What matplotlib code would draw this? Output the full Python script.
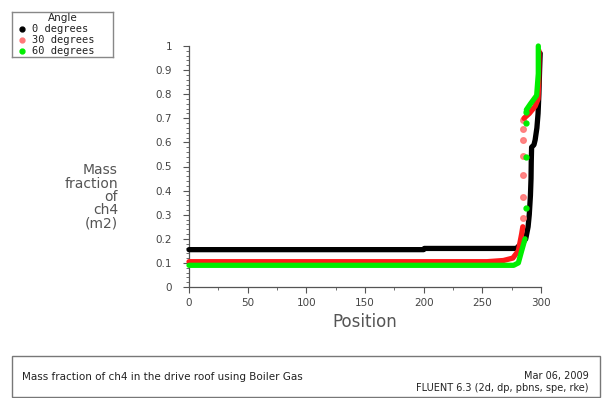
import matplotlib
matplotlib.use("Agg")
import matplotlib.pyplot as plt
from matplotlib.ticker import MultipleLocator
from matplotlib.patches import Rectangle

# ---- data ----
x_0deg = [0, 200, 200.5, 279, 281, 284, 287, 289, 290, 291, 291.5, 291.7, 292, 294, 295, 296.5, 297.5, 298.2, 298.8, 299.3]
y_0deg = [0.155, 0.155, 0.16, 0.16, 0.17, 0.18, 0.20, 0.25, 0.30, 0.38, 0.45, 0.52, 0.58, 0.59, 0.61, 0.66, 0.72, 0.80, 0.90, 0.97]

x_30deg = [0, 254, 268, 276, 280.7, 283.5, 284.5]
y_30deg = [0.105, 0.105, 0.11, 0.12, 0.15, 0.22, 0.25]
x_30_jump = [285, 285, 285, 285, 285, 285, 285]
y_30_jump = [0.285, 0.373, 0.465, 0.542, 0.609, 0.656, 0.692]
x_30_top = [285.5, 290, 295, 297.5, 298, 298.3]
y_30_top = [0.70, 0.72, 0.75, 0.78, 0.85, 0.98]

x_60deg = [0, 276.7, 280.7, 283.5, 286.4]
y_60deg = [0.09, 0.09, 0.10, 0.15, 0.20]
x_60_jump = [287, 287, 287, 287]
y_60_jump = [0.328, 0.54, 0.68, 0.725]
x_60_top = [287.5, 291, 296.3, 297.7, 297.7]
y_60_top = [0.735, 0.76, 0.795, 0.885, 1.0]

series_labels = ["0 degrees", "30 degrees", "60 degrees"]
legend_title = "Angle"
x_ticks = [0, 50, 100, 150, 200, 250, 300]
y_ticks = [0, 0.1, 0.2, 0.3, 0.4, 0.5, 0.6, 0.7, 0.8, 0.9, 1.0]

c_black = "#000000"
c_red = "#ff1a1a"
c_red_light = "#ff7878"
c_green = "#00ee00"
gray = "#555555"

W, H = 603, 398
fig = plt.figure(figsize=(W / 100, H / 100), dpi=100)
fig.patch.set_facecolor("white")

def fx(px):
    return px / W

def fy(py):
    return 1 - py / H

left, right, top, bottom = 189, 541, 46, 287
ax = fig.add_axes([fx(left), fy(bottom), fx(right - left), fy(top) - fy(bottom)])
ax.set_xlim(0, 300)
ax.set_ylim(0, 1)
ax.margins(0)

lw = 3.8
kw = dict(lw=lw, solid_capstyle="round", solid_joinstyle="round", clip_on=False)
ax.plot(x_0deg, y_0deg, color=c_black, zorder=3, **kw)
ax.plot(x_30deg, y_30deg, color=c_red, zorder=4, **kw)
ax.plot(x_30_jump, y_30_jump, ls="none", marker="o", ms=4, color=c_red_light, alpha=0.9, zorder=4, clip_on=False)
ax.plot(x_30_top, y_30_top, color=c_red, zorder=4, **kw)
ax.plot(x_60deg, y_60deg, color=c_green, zorder=5, **kw)
ax.plot(x_60_jump, y_60_jump, ls="none", marker="o", ms=3.5, color=c_green, zorder=5, clip_on=False)
ax.plot(x_60_top, y_60_top, color=c_green, zorder=5, **kw)

for s in ["top", "right"]:
    ax.spines[s].set_visible(False)
for s in ["left", "bottom"]:
    ax.spines[s].set_color(gray)
    ax.spines[s].set_linewidth(0.9)

ax.set_xticks(x_ticks)
ax.set_xticklabels([str(v) for v in x_ticks])
ax.set_yticks(y_ticks)
ax.set_yticklabels(["0" if v == 0 else ("1" if v == 1 else f"{v:.1f}") for v in y_ticks])
ax.xaxis.set_minor_locator(MultipleLocator(25))
ax.yaxis.set_minor_locator(MultipleLocator(0.02))
ax.tick_params(axis="both", which="major", length=4, width=0.8, color=gray,
               labelsize=7.5, labelcolor="#444444", pad=4)
ax.tick_params(axis="both", which="minor", length=2.5, width=0.6, color=gray)
ax.tick_params(axis="y", which="major", pad=8)

fig.text(fx(365), fy(322), "Position", ha="center", va="center", fontsize=12, color=gray)
fig.text(fx(118), fy(197), "Mass\nfraction\nof\nch4\n(m2)", ha="right", va="center",
         fontsize=10, color=gray, linespacing=0.95, multialignment="right")

# legend box (drawn as a small clipped panel)
lax = fig.add_axes([fx(12), fy(57), fx(101), fy(12) - fy(57)])
lax.set_xlim(0, 1)
lax.set_ylim(0, 1)
lax.set_xticks([])
lax.set_yticks([])
for s in lax.spines.values():
    s.set_color("#888888")
    s.set_linewidth(1.0)
lax.text(0.5, 0.87, legend_title, ha="center", va="center", fontsize=7.5, color="#222222",
         transform=lax.transAxes)
ys = [0.62, 0.38, 0.14]
cols = [c_black, c_red_light, c_green]
for yy, cc, lab in zip(ys, cols, series_labels):
    lax.plot([0.1], [yy], marker="o", ms=3.5, color=cc, transform=lax.transAxes)
    lax.text(0.2, yy, lab, ha="left", va="center", fontsize=7.5, color="#222222",
             transform=lax.transAxes, clip_on=True, fontfamily="DejaVu Sans Mono")

# bottom caption box
fig.patches.append(Rectangle((fx(12), fy(397)), fx(600 - 12), fy(356) - fy(397),
                             transform=fig.transFigure, fill=False, edgecolor="#777777", lw=1.0))
fig.text(fx(22), fy(377), "Mass fraction of ch4 in the drive roof using Boiler Gas",
         ha="left", va="center", fontsize=7.5, color="#222222")
fig.text(fx(589), fy(376), "Mar 06, 2009", ha="right", va="center", fontsize=7, color="#222222")
fig.text(fx(589), fy(388), "FLUENT 6.3 (2d, dp, pbns, spe, rke)", ha="right", va="center",
         fontsize=7, color="#222222")

fig.savefig("out.png", dpi=100, facecolor="white")
